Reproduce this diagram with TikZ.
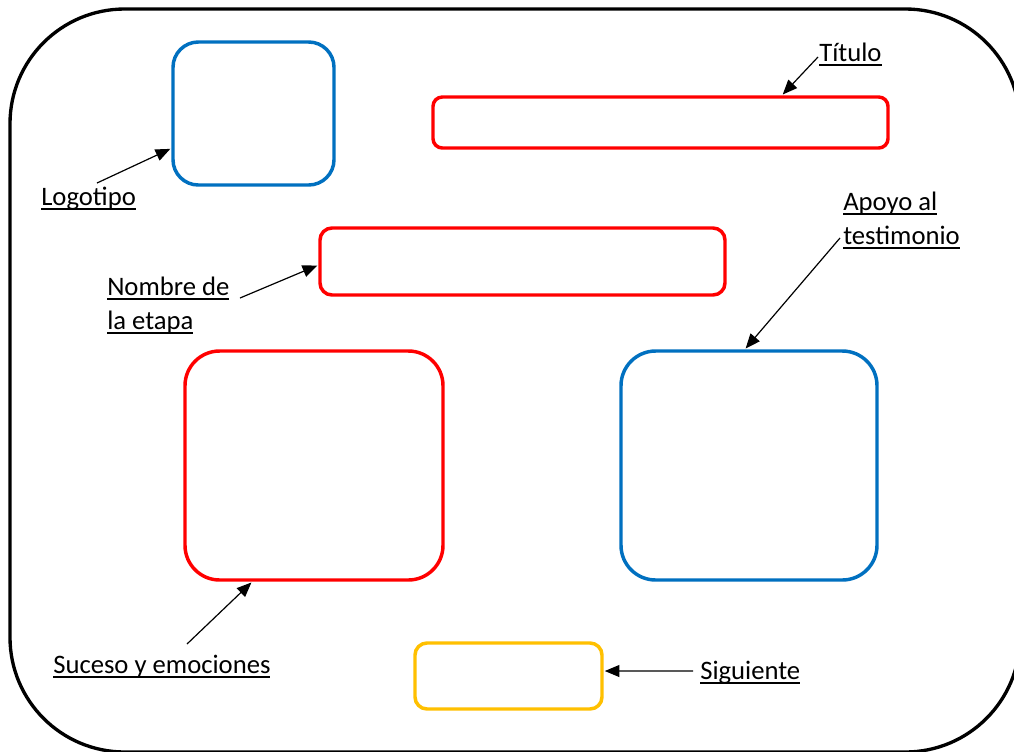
\documentclass[tikz,border=0pt]{standalone}
\usepackage{fontspec}
\setmainfont{Carlito}
\usetikzlibrary{arrows.meta,fit}
\definecolor{xred}{HTML}{FF0000}
\definecolor{xblue}{HTML}{0070C0}
\definecolor{xyellow}{HTML}{FFC000}
\newcommand\ulbox[1]{\setbox0=\hbox{#1}\rlap{\rule[-3.4pt]{\wd0}{1.4pt}}\box0}
\begin{document}
\begin{tikzpicture}[x=0.75pt,y=-0.75pt,
  frame/.style={draw=black,line width=2.5pt,rounded corners=86pt},
  box/.style={draw,line width=2.6pt,inner sep=0pt},
  lbl/.style={inner sep=0pt,anchor=base west,font=\fontsize{20}{26}\selectfont},
  arr/.style={line width=0.9pt,-{Triangle[length=11pt,width=9pt]},shorten >=0.8pt}]
\useasboundingbox (0,0) rectangle (1014,751);
\fill[white] (0,0) rectangle (1014,751);
\draw[frame] (10,9) rectangle (1020,752);
% boxes
\node[box,draw=xblue,rounded corners=19pt,fit={(173,42) (334,185)}] (logo) {};
\node[box,draw=xred,rounded corners=7pt,fit={(433,97) (888,148)}] (title) {};
\node[box,draw=xred,rounded corners=9pt,fit={(320,228) (725,295)}] (nombre) {};
\node[box,draw=xred,rounded corners=26pt,fit={(185,351) (443,580)}] (suceso) {};
\node[box,draw=xblue,rounded corners=26pt,fit={(621,351) (877,580)}] (apoyo) {};
\node[box,draw=xyellow,rounded corners=9pt,fit={(415,643) (602,709)}] (sig) {};
% labels
\node[lbl] (lLogo) at (41,205) {\ulbox{Logotipo}};
\node[lbl] (lTitle) at (819,61) {\ulbox{Título}};
\node[lbl] (lNombre) at (107,295) {\vtop{\hbox{\ulbox{Nombre de}}\hbox{\ulbox{la etapa}}}};
\node[lbl] (lApoyo) at (843,210) {\vtop{\hbox{\ulbox{Apoyo al}}\hbox{\ulbox{testimonio}}}};
\node[lbl] (lSuceso) at (53,673) {\ulbox{Suceso y emociones}};
\node[lbl] (lSig) at (700,679) {\ulbox{Siguiente}};
% arrow tails
\coordinate (tLogo) at (97,183);
\coordinate (tTitle) at (818,57);
\coordinate (hTitle) at (782,0);
\coordinate (tNombre) at (240,298);
\coordinate (tApoyo) at (840,238);
\coordinate (tSuceso) at (187,644);
\coordinate (tSig) at (693,671);
% arrows
\draw[arr] (tLogo) -- (logo.203);
\draw[arr] (tTitle) -- (hTitle |- title.north);
\draw[arr] (tNombre) -- (nombre.181);
\draw[arr] (tApoyo) -- (apoyo.92);
\draw[arr] (tSuceso) -- (suceso.242);
\draw[arr] (tSig) -- (sig.3);
\end{tikzpicture}
\end{document}
